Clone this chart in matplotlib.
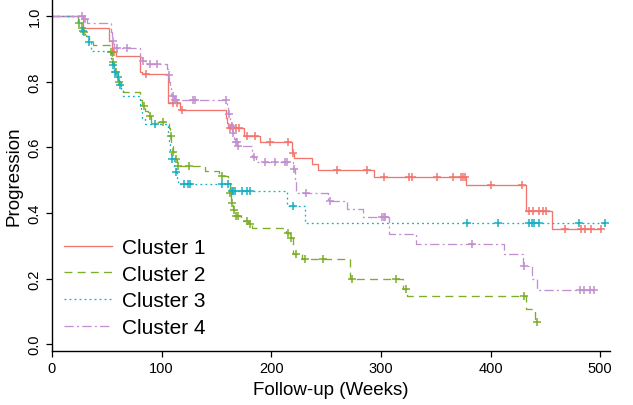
import numpy as np
import matplotlib
matplotlib.use('Agg')
import matplotlib.pyplot as plt
from matplotlib.lines import Line2D

plt.rcParams['font.family'] = ['Liberation Sans', 'DejaVu Sans']

labels = ["Cluster 1", "Cluster 2", "Cluster 3", "Cluster 4"]

# Cluster 1
c1_times = [28, 52, 55, 58, 80, 82, 106, 117, 159, 160, 161, 175, 190, 219, 221, 237, 243, 294, 378, 432, 456]
c1_surv = [0.965, 0.925, 0.89, 0.878, 0.83, 0.823, 0.735, 0.713, 0.69, 0.675, 0.658, 0.635, 0.617, 0.582,
           0.566, 0.549, 0.531, 0.509, 0.485, 0.406, 0.35]
c1_cens = [56, 57, 86, 110, 114, 119, 162, 165, 168, 171, 178, 185, 199, 215, 220, 260, 287, 303, 326, 328,
           351, 366, 373, 375, 377, 400, 429, 435, 439, 444, 448, 451, 468, 483, 486, 492, 501]

# Cluster 2
c2_times = [24, 26, 28, 31, 34, 37, 53, 55, 57, 60, 63, 65, 80, 82, 85, 88, 90, 107, 108, 109, 110, 112, 114,
            140, 152, 161, 162, 163.5, 165, 167, 172, 179, 182, 213, 217, 220, 228, 272, 320, 324, 432, 441]
c2_surv = [0.98, 0.965, 0.95, 0.94, 0.925, 0.913, 0.89, 0.86, 0.83, 0.80, 0.78, 0.768, 0.745, 0.727, 0.71,
           0.696, 0.677, 0.66, 0.635, 0.61, 0.585, 0.564, 0.544, 0.528, 0.513, 0.49, 0.46, 0.43, 0.41, 0.39,
           0.376, 0.366, 0.353, 0.34, 0.322, 0.274, 0.259, 0.2, 0.168, 0.147, 0.107, 0.068]
c2_cens = [25, 27, 29, 54, 56, 58, 61, 84, 89, 101, 108.5, 110.5, 113, 115, 125, 155, 162.5, 164, 166, 168,
           169.5, 177.6, 180.5, 215, 218, 223, 231, 247, 274, 314, 323, 430.5, 442]

# Cluster 3
c3_times = [24, 27, 30, 33, 36, 54, 55, 57, 58, 61, 63, 65, 80, 81, 82, 85, 106, 107, 108, 109, 111, 113, 114,
            115, 162, 214, 231]
c3_surv = [0.98, 0.955, 0.94, 0.92, 0.894, 0.87, 0.85, 0.83, 0.813, 0.79, 0.772, 0.755, 0.73, 0.71, 0.69,
           0.671, 0.646, 0.62, 0.59, 0.564, 0.54, 0.524, 0.505, 0.488, 0.467, 0.42, 0.369]
c3_cens = [28, 34, 56, 57.5, 60, 62, 94, 109.5, 113.5, 120, 124, 126, 155, 160.5, 164, 165.5, 167, 173, 178,
           181, 220, 379, 407, 435, 437.5, 440, 444.5, 481, 504]

# Cluster 4
c4_times = [30, 31.5, 54, 55, 57, 80, 82, 86, 105, 106, 107, 108, 109, 111, 160, 161, 162, 163, 164.5, 166,
            167.5, 169, 182, 186, 220, 222, 223, 252, 269, 284, 307, 332, 412, 430, 438, 442]
c4_surv = [0.99, 0.98, 0.95, 0.925, 0.904, 0.875, 0.864, 0.854, 0.838, 0.82, 0.80, 0.78, 0.757, 0.745, 0.726,
           0.70, 0.68, 0.666, 0.645, 0.625, 0.615, 0.605, 0.569, 0.554, 0.534, 0.50, 0.462, 0.437, 0.412,
           0.386, 0.335, 0.305, 0.274, 0.239, 0.20, 0.165]
c4_cens = [27.5, 30.5, 56, 59, 68, 83, 89, 96, 106.5, 110.5, 112, 113.5, 129, 130.5, 159, 161.5, 164, 165.5,
           168, 168.5, 170, 184, 194, 203.5, 212.5, 214.5, 221, 232, 253.5, 301, 302.5, 304, 383, 430.5, 482,
           485, 491, 494]

x_ticks = [0, 100, 200, 300, 400, 500]
y_ticks = [0.0, 0.2, 0.4, 0.6, 0.8, 1.0]

series = [
    (c1_times, c1_surv, c1_cens, '#F2766E', (None,)),
    (c2_times, c2_surv, c2_cens, '#7CAE2A', (6, 4)),
    (c3_times, c3_surv, c3_cens, '#17AFC2', (1.4, 2.4)),
    (c4_times, c4_surv, c4_cens, '#C28FD0', (7, 2.5, 1.5, 2.5)),
]

fig = plt.figure(figsize=(6.33, 4.06), dpi=100)
ax = fig.add_axes([52 / 633, 54 / 406, (610 - 52) / 633, 352 / 406])

handles = []
for times, surv, cens, col, dash in series:
    times = np.asarray(times, float)
    surv = np.asarray(surv, float)
    cens = np.asarray(cens, float)
    end = max(times.max(), cens.max())
    xs = np.r_[0, times, end]
    ys = np.r_[1.0, surv, surv[-1]]
    ln, = ax.step(xs, ys, where='post', color=col, lw=0.95)
    if dash[0] is not None:
        ln.set_dashes(dash)
    idx = np.searchsorted(times, cens, side='right') - 1
    cy = np.where(idx >= 0, surv[np.clip(idx, 0, None)], 1.0)
    ax.plot(cens, cy, linestyle='none', marker='+', ms=5.5, mew=1.1, color=col)
    h = Line2D([], [], color=col, lw=0.95)
    if dash[0] is not None:
        h.set_dashes(dash)
    handles.append(h)

ax.set_xlim(0, 509)
ax.set_ylim(-0.021, 1.052)
ax.set_xticks(x_ticks)
ax.set_yticks(y_ticks)
ax.set_yticklabels([f"{v:.1f}" for v in y_ticks], rotation=90, va='center')
ax.tick_params(axis='both', direction='out', length=4.5, width=0.9, labelsize=10.5, pad=3)
for s in ['top', 'right']:
    ax.spines[s].set_visible(False)
for s in ['left', 'bottom']:
    ax.spines[s].set_linewidth(1.0)

ax.set_xlabel("Follow-up (Weeks)", fontsize=13.5, labelpad=4)
ax.set_ylabel("Progression", fontsize=13.5, labelpad=4)

fig.legend(handles, labels, loc='upper left', bbox_to_anchor=(64 / 633, 1 - 239 / 406),
           frameon=False, fontsize=15, handlelength=2.3, handletextpad=0.5,
           labelspacing=0.37, borderpad=0, borderaxespad=0)

fig.savefig('out.png', dpi=100)
